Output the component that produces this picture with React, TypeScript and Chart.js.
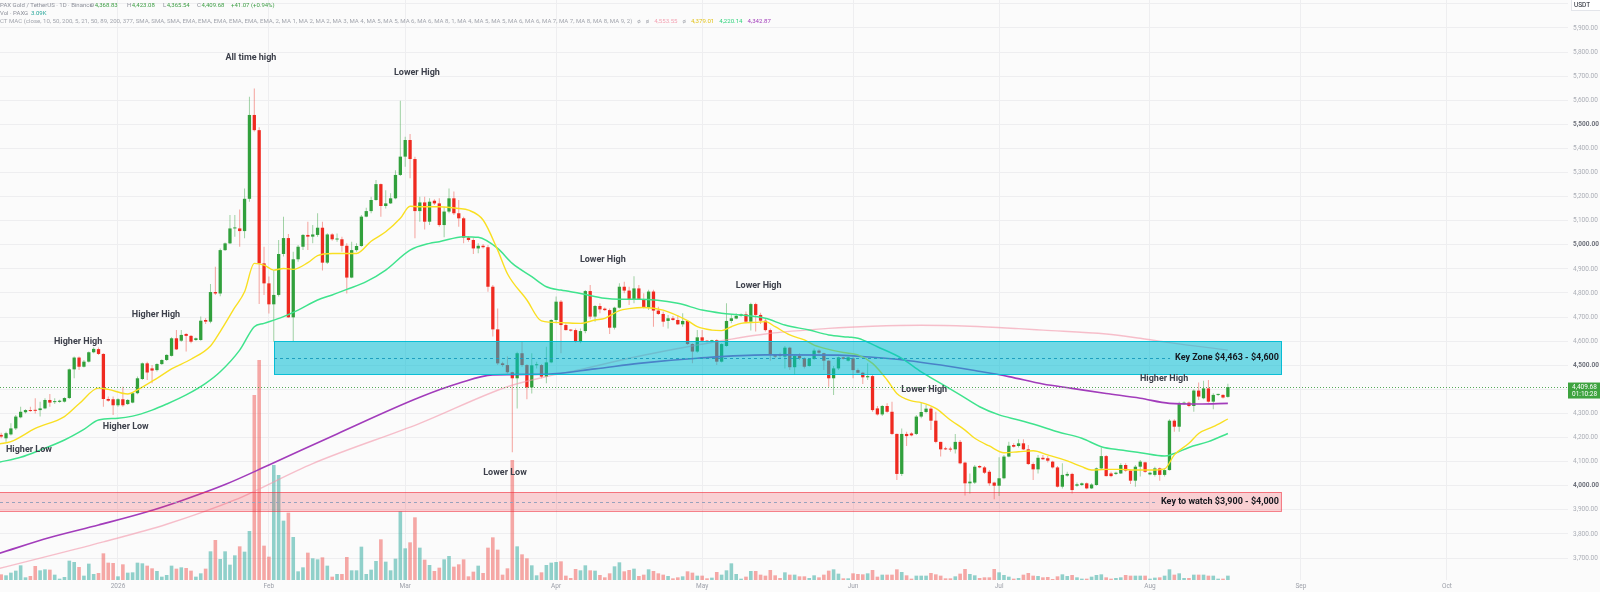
import React, { useEffect, useRef } from 'react';
import { Chart, registerables } from 'chart.js';

Chart.register(...registerables);

// ---------------- DATA (days counted from 1 Jan 2026; first candle = 8 Dec 2025) ----------------
const FIRST_DAY = -24;

const OPEN = [
  4211, 4197, 4213, 4238, 4284, 4305, 4314, 4313, 4314, 4321,
  4356, 4347, 4348, 4349, 4364, 4483, 4532, 4494, 4515, 4554,
  4567, 4547, 4360, 4359, 4334, 4359, 4339, 4345, 4384, 4443,
  4508, 4487, 4480, 4505, 4522, 4539, 4612, 4602, 4630, 4622,
  4605, 4605, 4688, 4681, 4804, 4798, 4978, 5006, 5068, 5068,
  5057, 5191, 5539, 5476, 4923, 4840, 4753, 4792, 4962, 5028,
  4699, 4940, 4992, 5041, 5034, 5041, 5071, 4926, 5043, 5022,
  5023, 4996, 4864, 4978, 4995, 5117, 5140, 5186, 5252, 5161,
  5172, 5193, 5290, 5366, 5435, 5356, 5140, 5176, 5096, 5183,
  5172, 5082, 5138, 5193, 5131, 5110, 5030, 5020, 4985, 4996,
  4990, 4826, 4649, 4508, 4501, 4471, 4446, 4550, 4501, 4408,
  4500, 4501, 4453, 4512, 4688, 4764, 4667, 4646, 4646, 4598,
  4642, 4808, 4702, 4746, 4735, 4729, 4656, 4739, 4826, 4810,
  4771, 4819, 4774, 4739, 4806, 4727, 4713, 4684, 4695, 4688,
  4670, 4684, 4588, 4557, 4616, 4602, 4598, 4604, 4515, 4580,
  4684, 4694, 4705, 4712, 4681, 4754, 4709, 4685, 4646, 4543,
  4543, 4536, 4573, 4492, 4539, 4529, 4497, 4526, 4561, 4550,
  4519, 4446, 4487, 4533, 4519, 4529, 4480, 4469, 4450, 4455,
  4321, 4296, 4331, 4307, 4215, 4049, 4215, 4217, 4215, 4287,
  4306, 4320, 4270, 4182, 4155, 4152, 4151, 4182, 4096, 4010,
  4013, 4082, 4076, 4058, 4013, 4000, 4031, 4121, 4169, 4165,
  4176, 4151, 4090, 4068, 4116, 4114, 4100, 4076, 3996, 4042,
  4049, 4000, 4003, 4010, 3989, 4003, 4072, 4123, 4051, 4049,
  4051, 4086, 4063, 4021, 4079, 4097, 4047, 4045, 4072, 4045,
  4065, 4270, 4245, 4339, 4345, 4331, 4395, 4363, 4404, 4349,
  4377, 4377, 4368.83,
];

const HIGH = [
  4220, 4224, 4259, 4294, 4328, 4317, 4328, 4363, 4349, 4363,
  4381, 4363, 4357, 4367, 4487, 4536, 4536, 4522, 4557, 4575,
  4574, 4550, 4370, 4370, 4363, 4411, 4360, 4386, 4453, 4512,
  4515, 4501, 4508, 4525, 4546, 4616, 4646, 4646, 4633, 4626,
  4615, 4702, 4695, 4837, 4909, 4985, 5010, 5124, 5124, 5147,
  5234, 5615, 5649, 5488, 4992, 4868, 4895, 5020, 5117, 5045,
  4971, 4999, 5045, 5096, 5082, 5131, 5096, 5048, 5048, 5047,
  5034, 5006, 5013, 5006, 5124, 5154, 5200, 5269, 5255, 5227,
  5214, 5310, 5598, 5449, 5460, 5366, 5200, 5200, 5193, 5189,
  5193, 5158, 5234, 5221, 5186, 5117, 5037, 5027, 5006, 5003,
  4999, 4833, 4736, 4515, 4536, 4473, 4556, 4598, 4505, 4550,
  4515, 4505, 4577, 4691, 4785, 4771, 4674, 4650, 4653, 4653,
  4812, 4833, 4750, 4757, 4740, 4736, 4743, 4840, 4847, 4826,
  4870, 4833, 4799, 4813, 4813, 4743, 4723, 4709, 4705, 4709,
  4716, 4688, 4591, 4646, 4646, 4605, 4606, 4608, 4591, 4757,
  4709, 4716, 4715, 4723, 4760, 4760, 4718, 4695, 4653, 4547,
  4552, 4580, 4577, 4543, 4550, 4533, 4530, 4570, 4566, 4552,
  4522, 4497, 4536, 4535, 4536, 4536, 4487, 4473, 4508, 4460,
  4331, 4335, 4342, 4349, 4217, 4238, 4224, 4222, 4294, 4345,
  4335, 4328, 4307, 4183, 4162, 4162, 4215, 4190, 4100, 4051,
  4086, 4085, 4082, 4065, 4017, 4118, 4128, 4183, 4176, 4193,
  4193, 4169, 4096, 4128, 4128, 4123, 4104, 4082, 4093, 4058,
  4054, 4013, 4013, 4013, 4010, 4076, 4159, 4128, 4058, 4058,
  4093, 4093, 4065, 4086, 4107, 4100, 4058, 4079, 4076, 4072,
  4276, 4276, 4349, 4350, 4350, 4400, 4428, 4436, 4439, 4384,
  4382, 4380, 4423.08,
];

const LOW = [
  4197, 4183, 4209, 4231, 4280, 4300, 4307, 4300, 4287, 4317,
  4328, 4339, 4344, 4345, 4360, 4446, 4480, 4491, 4511, 4550,
  4543, 4328, 4349, 4294, 4328, 4328, 4335, 4342, 4380, 4439,
  4439, 4425, 4474, 4501, 4518, 4536, 4563, 4598, 4557, 4591,
  4601, 4602, 4671, 4674, 4792, 4787, 4974, 5003, 5034, 4992,
  5027, 5179, 5470, 4754, 4792, 4715, 4598, 4785, 4951, 4697,
  4598, 4930, 4978, 4978, 5006, 5034, 4893, 4920, 5017, 5013,
  4971, 4798, 4861, 4971, 4992, 5114, 5131, 5183, 5117, 5151,
  5169, 5189, 5286, 5324, 5276, 5027, 5096, 5064, 5082, 5165,
  5075, 5031, 5131, 5124, 5075, 5006, 5013, 4962, 4965, 4985,
  4805, 4619, 4501, 4494, 4466, 4139, 4321, 4494, 4359, 4383,
  4487, 4446, 4425, 4508, 4674, 4550, 4644, 4640, 4594, 4591,
  4633, 4691, 4681, 4716, 4725, 4630, 4649, 4736, 4799, 4750,
  4757, 4771, 4736, 4729, 4660, 4709, 4660, 4653, 4685, 4667,
  4660, 4584, 4508, 4552, 4598, 4595, 4595, 4501, 4511, 4577,
  4674, 4691, 4701, 4674, 4644, 4640, 4671, 4640, 4519, 4529,
  4529, 4487, 4480, 4460, 4522, 4487, 4494, 4522, 4547, 4480,
  4411, 4377, 4480, 4524, 4516, 4446, 4467, 4422, 4439, 4307,
  4292, 4289, 4303, 4211, 4024, 4040, 4165, 4205, 4211, 4280,
  4301, 4231, 4176, 4121, 4148, 4141, 4134, 4089, 3959, 3968,
  4007, 4073, 4049, 4000, 3944, 3957, 4027, 4118, 4159, 4159,
  4148, 4086, 4024, 4051, 4107, 4096, 4072, 3993, 3989, 4037,
  3968, 3996, 3999, 3985, 3986, 4000, 4065, 4038, 4035, 4045,
  4049, 4058, 4007, 3996, 4038, 4054, 4044, 4038, 4021, 4038,
  4063, 4224, 4224, 4335, 4326, 4307, 4356, 4359, 4345, 4317,
  4372, 4362, 4365.54,
];

const CLOSE = [
  4204, 4218, 4238, 4287, 4307, 4314, 4310, 4311, 4321, 4356,
  4345, 4349, 4353, 4364, 4483, 4532, 4494, 4515, 4554, 4568,
  4547, 4360, 4353, 4334, 4359, 4334, 4356, 4384, 4446, 4508,
  4470, 4478, 4505, 4522, 4543, 4612, 4566, 4626, 4622, 4598,
  4612, 4685, 4681, 4804, 4798, 4978, 5006, 5068, 5069, 5057,
  5191, 5539, 5476, 4923, 4840, 4753, 4792, 4962, 5028, 4699,
  4940, 4992, 5041, 5034, 5043, 5071, 4926, 5043, 5023, 5023,
  4996, 4864, 4978, 4995, 5117, 5140, 5186, 5252, 5161, 5172,
  5193, 5290, 5366, 5435, 5356, 5140, 5176, 5096, 5179, 5172,
  5082, 5138, 5193, 5131, 5110, 5030, 5020, 4985, 4996, 4990,
  4826, 4649, 4508, 4501, 4471, 4446, 4550, 4501, 4408, 4500,
  4502, 4453, 4512, 4688, 4764, 4667, 4646, 4644, 4598, 4642,
  4808, 4702, 4746, 4732, 4729, 4656, 4739, 4826, 4810, 4771,
  4819, 4774, 4739, 4806, 4727, 4713, 4681, 4695, 4688, 4670,
  4684, 4588, 4557, 4616, 4602, 4598, 4604, 4515, 4588, 4684,
  4695, 4705, 4712, 4681, 4754, 4709, 4685, 4646, 4543, 4536,
  4539, 4573, 4492, 4539, 4529, 4494, 4526, 4561, 4552, 4519,
  4446, 4487, 4533, 4527, 4533, 4480, 4469, 4450, 4455, 4314,
  4296, 4331, 4307, 4215, 4049, 4215, 4206, 4209, 4287, 4306,
  4320, 4270, 4182, 4151, 4151, 4150, 4182, 4093, 4010, 4017,
  4079, 4076, 4054, 4010, 4000, 4031, 4121, 4166, 4162, 4176,
  4151, 4090, 4068, 4116, 4110, 4104, 4076, 3996, 4045, 4049,
  3982, 4006, 4010, 3989, 4005, 4072, 4123, 4040, 4040, 4054,
  4086, 4063, 4021, 4079, 4100, 4058, 4054, 4072, 4045, 4065,
  4270, 4245, 4339, 4345, 4331, 4395, 4370, 4404, 4349, 4377,
  4378, 4366, 4409.68,
];

// volume (relative units)
const VOLUME = [
  17, 14, 22, 28, 44, 8, 12, 42, 29, 32,
  31, 16, 4, 9, 58, 54, 39, 13, 49, 18,
  21, 80, 52, 51, 11, 47, 22, 23, 52, 50,
  43, 35, 27, 10, 15, 43, 34, 38, 36, 28,
  10, 20, 34, 86, 120, 63, 86, 46, 74, 101,
  85, 147, 555, 660, 103, 70, 345, 315, 178, 202,
  129, 26, 38, 82, 65, 62, 68, 43, 10, 18,
  18, 69, 29, 29, 100, 18, 31, 57, 122, 55,
  29, 64, 206, 95, 113, 188, 97, 61, 45, 27,
  37, 62, 72, 40, 47, 62, 11, 25, 43, 21,
  97, 128, 91, 16, 35, 360, 101, 77, 65, 44,
  14, 23, 45, 52, 54, 56, 13, 6, 33, 29,
  44, 29, 28, 15, 8, 20, 41, 53, 26, 30,
  34, 12, 16, 32, 27, 20, 16, 12, 5, 8,
  11, 26, 22, 13, 13, 5, 7, 24, 16, 29,
  50, 18, 4, 10, 27, 27, 16, 13, 30, 14,
  6, 23, 16, 16, 11, 11, 6, 14, 8, 16,
  28, 32, 19, 5, 5, 20, 18, 17, 20, 30,
  10, 16, 16, 16, 32, 24, 14, 4, 13, 13,
  13, 21, 17, 13, 5, 5, 11, 19, 33, 18,
  14, 6, 8, 8, 33, 23, 15, 10, 4, 6,
  16, 21, 13, 12, 8, 9, 3, 11, 17, 12,
  15, 8, 4, 4, 10, 15, 17, 8, 4, 6,
  8, 15, 13, 13, 13, 13, 4, 7, 8, 13,
  32, 16, 20, 6, 6, 16, 16, 16, 13, 13,
  4, 4, 13,
];

// Moving averages (day, value)
const MA_FAST_DAYS = [-24.3, -22, -17, -11, -8, -4, -2, 2, 4, 8, 11, 15, 19, 21, 24, 26, 28, 30, 32, 34, 36, 39, 41, 44, 47, 49, 52, 55, 58, 60, 62, 66, 70, 72, 75, 78, 80, 84, 87, 91, 95, 98, 100, 103, 105, 108, 112, 117, 119, 122, 124, 126, 128, 131, 133, 135, 138, 141, 143, 146, 149, 152, 155, 158, 160, 163, 165, 168, 171, 174, 176, 179, 182, 185, 188, 191, 195, 198, 200, 203, 206, 209, 212, 215, 217, 220, 222, 225, 228];
const MA_FAST = [4174, 4183, 4238, 4287, 4340, 4405, 4400, 4381, 4398, 4446, 4485, 4525, 4580, 4640, 4740, 4805, 4923, 4916, 4895, 4902, 4898, 4926, 4955, 4964, 4964, 4964, 5015, 5054, 5110, 5160, 5158, 5158, 5151, 5144, 5103, 4978, 4880, 4771, 4684, 4677, 4674, 4688, 4695, 4727, 4735, 4740, 4729, 4685, 4660, 4646, 4644, 4660, 4674, 4678, 4681, 4660, 4626, 4605, 4584, 4566, 4553, 4543, 4508, 4439, 4383, 4352, 4345, 4321, 4273, 4231, 4197, 4165, 4137, 4141, 4145, 4128, 4103, 4079, 4065, 4068, 4068, 4065, 4065, 4070, 4128, 4176, 4217, 4245, 4277];

const MA_MID_DAYS = [-24.3, -20, -16, -11, -7, -4, 0, 3, 7, 10, 14, 18, 21, 25, 28, 30, 34, 37, 41, 44, 47, 51, 55, 60, 64, 66, 71, 74, 78, 81, 85, 88, 91, 95, 100, 103, 107, 115, 120, 124, 128, 133, 137, 142, 146, 150, 152, 156, 161, 165, 169, 173, 177, 181, 185, 189, 193, 198, 202, 206, 210, 215, 217, 220, 224, 228];
const MA_MID = [4098, 4118, 4148, 4190, 4234, 4273, 4280, 4289, 4314, 4339, 4377, 4425, 4473, 4563, 4660, 4674, 4702, 4729, 4771, 4792, 4815, 4847, 4895, 4978, 5006, 5013, 5034, 5031, 4985, 4923, 4868, 4826, 4812, 4798, 4778, 4774, 4774, 4757, 4729, 4716, 4709, 4695, 4667, 4646, 4626, 4617, 4612, 4577, 4529, 4473, 4425, 4377, 4328, 4294, 4273, 4250, 4224, 4197, 4162, 4148, 4137, 4123, 4134, 4159, 4183, 4217];

const MA_SLOW_DAYS = [-24.3, -14, -4, 6, 13, 22, 31, 45, 62, 70, 77, 88, 98, 107, 119, 133, 148, 155, 162, 169, 176, 183, 190, 196, 203, 210, 216, 222, 228];
const MA_SLOW = [3720, 3785, 3837, 3892, 3938, 4005, 4086, 4215, 4367, 4425, 4460, 4463, 4485, 4508, 4529, 4543, 4542, 4533, 4520, 4501, 4478, 4453, 4422, 4404, 4383, 4363, 4342, 4339, 4342];

const MA_LONG_DAYS = [-24.3, -3, 10, 24, 40, 62, 80, 88, 96, 105, 119, 133, 146, 155, 165, 175, 185, 190, 203, 210, 216, 228];
const MA_LONG = [3657, 3767, 3840, 3941, 4092, 4259, 4411, 4453, 4487, 4529, 4584, 4630, 4653, 4662, 4666, 4662, 4652, 4646, 4630, 4612, 4594, 4563];

// Axis ticks
const MONTH_TICKS = [0, 31, 59, 90, 120, 151, 181, 212, 243, 273];
const MONTH_LABELS = ['2026', 'Feb', 'Mar', 'Apr', 'May', 'Jun', 'Jul', 'Aug', 'Sep', 'Oct'];
const PRICE_TICKS = [3700, 3800, 3900, 4000, 4100, 4200, 4300, 4400, 4500, 4600, 4700, 4800, 4900, 5000, 5100, 5200, 5300, 5400, 5500, 5600, 5700, 5800, 5900, 6000];

// Zones
const KEY_ZONE = [4463, 4600];
const WATCH_ZONE = [3894, 3974];
const KEY_ZONE_START_DAY = 32.05;
const ZONE_END_DAY = 239.1;
const KEY_ZONE_TEXT = 'Key Zone $4,463 - $4,600';
const WATCH_ZONE_TEXT = 'Key to watch $3,900 - $4,000';

// Pattern annotations
const LABEL_TEXTS = ['All time high', 'Lower High', 'Higher High', 'Higher High', 'Higher Low', 'Higher Low', 'Lower High', 'Lower High', 'Lower Low', 'Lower High', 'Higher High'];
const LABEL_DAYS = [27.3, 61.4, -8.2, 7.8, -18.3, 1.6, 99.6, 131.6, 79.5, 165.6, 214.9];
const LABEL_PRICES = [5775, 5715, 4598, 4710, 4148, 4245, 4937, 4829, 4053, 4400, 4442];

// ---------------- STYLE ----------------
const W = 1600;
const H = 592;
const BG = '#fbfbfb';
const GRID = '#eeeef0';
const UP = '#31a03c';
const DOWN = '#ef2a20';
const UP_WICK = 'rgba(49,160,60,0.45)';
const DOWN_WICK = 'rgba(239,42,32,0.42)';
const VOL_UP = 'rgba(38,166,154,0.5)';
const VOL_DOWN = 'rgba(239,83,80,0.5)';
const FONT = 'Roboto, "Noto Sans", sans-serif';

const X_MIN = -24.24;
const X_MAX = 297.87;
const Y_MIN = 3608.7;
const Y_MAX = 6016.2;
const VOL_MAX = 1740;

const fmtPrice = (v: number) => {
  const [i, d] = v.toFixed(2).split('.');
  return i.replace(/\B(?=(\d{3})+(?!\d))/g, ',') + '.' + d;
};

const overlayPlugin = {
  id: 'overlay',
  beforeDraw(chart: any) {
    const { ctx, width, height } = chart;
    ctx.save();
    ctx.fillStyle = BG;
    ctx.fillRect(0, 0, width, height);
    ctx.restore();
  },
  afterDatasetsDraw(chart: any) {
    const { ctx, chartArea: a, scales } = chart;
    const xs = scales.x;
    const ys = scales.y;
    ctx.save();
    ctx.beginPath();
    ctx.rect(a.left, a.top, a.right - a.left, a.bottom - a.top);
    ctx.clip();

    const zEnd = xs.getPixelForValue(ZONE_END_DAY);
    ctx.font = `bold 9px ${FONT}`;

    // watch zone (pink)
    {
      const top = ys.getPixelForValue(WATCH_ZONE[1]);
      const bot = ys.getPixelForValue(WATCH_ZONE[0]);
      const left = a.left - 3;
      ctx.fillStyle = 'rgba(242,54,69,0.22)';
      ctx.fillRect(left, top, zEnd - left, bot - top);
      ctx.strokeStyle = 'rgba(242,54,69,0.6)';
      ctx.lineWidth = 1;
      ctx.strokeRect(left + 0.5, Math.round(top) + 0.5, zEnd - left - 1, Math.round(bot - top));
      const mid = (top + bot) / 2;
      const tw = ctx.measureText(WATCH_ZONE_TEXT).width;
      ctx.setLineDash([3, 3]);
      ctx.strokeStyle = '#98a2bd';
      ctx.beginPath();
      ctx.moveTo(a.left, Math.round(mid) + 0.5);
      ctx.lineTo(zEnd - 3 - tw - 5, Math.round(mid) + 0.5);
      ctx.stroke();
      ctx.setLineDash([]);
      ctx.fillStyle = '#15171e';
      ctx.textAlign = 'right';
      ctx.textBaseline = 'middle';
      ctx.fillText(WATCH_ZONE_TEXT, zEnd - 3, mid);
    }

    // key zone (cyan)
    {
      const top = ys.getPixelForValue(KEY_ZONE[1]);
      const bot = ys.getPixelForValue(KEY_ZONE[0]);
      const left = xs.getPixelForValue(KEY_ZONE_START_DAY);
      ctx.fillStyle = 'rgba(0,188,212,0.55)';
      ctx.fillRect(left, top, zEnd - left, bot - top);
      ctx.strokeStyle = 'rgba(0,188,212,0.95)';
      ctx.lineWidth = 1;
      ctx.strokeRect(Math.round(left) + 0.5, Math.round(top) + 0.5, Math.round(zEnd - left) - 1, Math.round(bot - top));
      const mid = (top + bot) / 2;
      const tw = ctx.measureText(KEY_ZONE_TEXT).width;
      ctx.setLineDash([3, 3]);
      ctx.strokeStyle = '#1f9fbf';
      ctx.beginPath();
      ctx.moveTo(left, Math.round(mid) + 0.5);
      ctx.lineTo(zEnd - 3 - tw - 5, Math.round(mid) + 0.5);
      ctx.stroke();
      ctx.setLineDash([]);
      ctx.fillStyle = '#15171e';
      ctx.textAlign = 'right';
      ctx.textBaseline = 'middle';
      ctx.fillText(KEY_ZONE_TEXT, zEnd - 3, mid);
    }

    // current price dotted line
    const last = CLOSE[CLOSE.length - 1];
    const py = Math.round(ys.getPixelForValue(last)) + 0.5;
    ctx.strokeStyle = 'rgba(67,160,71,0.9)';
    ctx.setLineDash([1, 2]);
    ctx.beginPath();
    ctx.moveTo(a.left, py);
    ctx.lineTo(a.right, py);
    ctx.stroke();
    ctx.setLineDash([]);

    // pattern labels
    ctx.fillStyle = '#3d404b';
    ctx.textAlign = 'center';
    ctx.textBaseline = 'middle';
    for (let i = 0; i < LABEL_TEXTS.length; i++) {
      ctx.fillText(LABEL_TEXTS[i], xs.getPixelForValue(LABEL_DAYS[i]), ys.getPixelForValue(LABEL_PRICES[i]));
    }
    ctx.restore();
  },
  afterDraw(chart: any) {
    const { ctx, chartArea: a, scales } = chart;
    const ys = scales.y;
    ctx.save();
    ctx.textBaseline = 'middle';
    ctx.textAlign = 'left';

    const GRAY = '#8d909a';
    const GREEN = '#3f9f46';
    // line 1
    ctx.font = `6px ${FONT}`;
    ctx.fillStyle = GRAY;
    ctx.fillText('PAX Gold / TetherUS · 1D · Binance', 0, 5);
    const ohlc: [string, string, number][] = [
      ['O', '4,368.83', 90],
      ['H', '4,423.08', 127],
      ['L', '4,365.54', 163],
      ['C', '4,409.68', 197],
    ];
    for (const [k, v, x] of ohlc) {
      ctx.fillStyle = GRAY;
      ctx.fillText(k, x, 5);
      const kw = ctx.measureText(k).width;
      ctx.fillStyle = GREEN;
      ctx.fillText(v, x + kw + 0.5, 5);
    }
    ctx.fillStyle = GREEN;
    ctx.fillText('+41.07 (+0.94%)', 231, 5);

    // line 2
    ctx.fillStyle = GRAY;
    ctx.fillText('Vol · PAXG', 0, 13.3);
    ctx.fillStyle = '#26a69a';
    ctx.fillText('3.09K', 31, 13.3);

    // line 3
    const ind = 'CT MAC (close, 10, 50, 200, 5, 21, 50, 89, 200, 377, SMA, SMA, SMA, EMA, EMA, EMA, EMA, EMA, EMA, 2, MA 1, MA 2, MA 2, MA 3, MA 4, MA 5, MA 5, MA 6, MA 6, MA 8, 1, MA 4, MA 5, MA 5, MA 6, MA 6, MA 7, MA 7, MA 8, MA 8, MA 9, 2)';
    ctx.font = `10px ${FONT}`;
    const w10 = ctx.measureText(ind).width;
    const fs = Math.min(6.2, (634 / w10) * 10);
    ctx.font = `${fs.toFixed(2)}px ${FONT}`;
    ctx.fillStyle = '#a3a6ae';
    ctx.fillText(ind, 0, 21.5);
    let cx = ctx.measureText(ind).width + 5;
    const parts: [string, string][] = [
      ['ø', '#a3a6ae'], ['ø', '#a3a6ae'], ['4,553.55', '#f4a3b4'], ['ø', '#a3a6ae'],
      ['4,379.01', '#e3c31c'], ['4,220.14', '#33d47f'], ['4,342.87', '#a23cbb'],
    ];
    for (const [t, c] of parts) {
      ctx.fillStyle = c;
      ctx.fillText(t, cx, 21.5);
      cx += ctx.measureText(t).width + 5;
    }

    // USDT box
    ctx.fillStyle = '#ffffff';
    ctx.fillRect(1571, 0, 29, 11);
    ctx.strokeStyle = '#e3e5ea';
    ctx.lineWidth = 1;
    ctx.strokeRect(1571.5, -0.5, 29, 11);
    ctx.fillStyle = '#131722';
    ctx.font = `6.5px ${FONT}`;
    ctx.fillText('USDT', 1574, 5.5);

    // price tag
    const last = CLOSE[CLOSE.length - 1];
    const py = ys.getPixelForValue(last);
    ctx.fillStyle = '#3ea33f';
    ctx.fillRect(a.right, py - 4.5, W - a.right, 16);
    ctx.fillStyle = '#ffffff';
    ctx.font = `6.5px ${FONT}`;
    ctx.fillText(fmtPrice(last), a.right + 4, py + 0.5);
    ctx.fillText('01:10:28', a.right + 4, py + 7.3);
    ctx.restore();
  },
};

export default function App() {
  const ref = useRef<HTMLCanvasElement>(null);

  useEffect(() => {
    const canvas = ref.current;
    if (!canvas) return;
    const days = OPEN.map((_, i) => FIRST_DAY + i);
    const up = OPEN.map((o, i) => CLOSE[i] >= o);

    const line = (label: string, xs: number[], vs: number[], color: string, width: number, order: number) => ({
      type: 'line' as const,
      label,
      data: xs.map((d, i) => ({ x: d, y: vs[i] })),
      borderColor: color,
      borderWidth: width,
      pointRadius: 0,
      pointHoverRadius: 0,
      cubicInterpolationMode: 'monotone' as const,
      yAxisID: 'y',
      order,
    });

    const chart = new Chart(canvas, {
      type: 'bar',
      data: {
        datasets: [
          line('MA fast', MA_FAST_DAYS, MA_FAST, '#f9df22', 1.4, 1),
          line('MA mid', MA_MID_DAYS, MA_MID, '#3fe38d', 1.5, 2),
          line('MA slow', MA_SLOW_DAYS, MA_SLOW, '#a23cbb', 1.6, 3),
          line('MA long', MA_LONG_DAYS, MA_LONG, 'rgba(244,150,170,0.6)', 1.4, 4),
          {
            type: 'bar',
            label: 'bodies',
            data: days.map((d, i) => ({ x: d, y: [Math.min(OPEN[i], CLOSE[i]), Math.max(OPEN[i], CLOSE[i])] })),
            backgroundColor: up.map((u) => (u ? UP : DOWN)),
            borderWidth: 0,
            grouped: false,
            barPercentage: 1,
            categoryPercentage: 1,
            maxBarThickness: 3.3,
            minBarLength: 1,
            inflateAmount: 0,
            yAxisID: 'y',
            order: 5,
          },
          {
            type: 'bar',
            label: 'wicks',
            data: days.map((d, i) => ({ x: d, y: [LOW[i], HIGH[i]] })),
            backgroundColor: up.map((u) => (u ? UP_WICK : DOWN_WICK)),
            borderWidth: 0,
            grouped: false,
            barPercentage: 1,
            categoryPercentage: 1,
            maxBarThickness: 1,
            inflateAmount: 0,
            yAxisID: 'y',
            order: 6,
          },
          {
            type: 'bar',
            label: 'volume',
            data: days.map((d, i) => ({ x: d, y: VOLUME[i] })),
            backgroundColor: up.map((u) => (u ? VOL_UP : VOL_DOWN)),
            borderWidth: 0,
            grouped: false,
            barPercentage: 1,
            categoryPercentage: 1,
            maxBarThickness: 3.6,
            inflateAmount: 0,
            yAxisID: 'vol',
            order: 10,
          },
        ] as any,
      },
      options: {
        animation: false,
        responsive: true,
        maintainAspectRatio: false,
        events: [],
        layout: { padding: 0, autoPadding: false },
        plugins: { legend: { display: false }, tooltip: { enabled: false } },
        scales: {
          x: {
            type: 'linear',
            position: 'bottom',
            min: X_MIN,
            max: X_MAX,
            offset: false,
            grid: { color: GRID, drawTicks: false, offset: false },
            border: { display: false },
            ticks: {
              autoSkip: false,
              maxRotation: 0,
              padding: 2,
              color: '#9ea1aa',
              font: { size: 6.5, family: FONT },
              callback: (_v: any, i: number) => MONTH_LABELS[i] ?? '',
            },
            afterBuildTicks: (s: any) => {
              s.ticks = MONTH_TICKS.map((v) => ({ value: v }));
            },
            afterFit: (s: any) => {
              s.height = 12;
              s.paddingLeft = 0;
              s.paddingRight = 0;
            },
          },
          y: {
            type: 'linear',
            position: 'right',
            min: Y_MIN,
            max: Y_MAX,
            grid: { color: GRID, drawTicks: false },
            border: { display: false },
            ticks: {
              autoSkip: false,
              padding: 5,
              color: (c: any) => (c.tick && c.tick.value % 500 === 0 ? '#6d707a' : '#abaeb6'),
              font: (c: any) => ({ size: 6.5, family: FONT, weight: c.tick && c.tick.value % 500 === 0 ? 'bold' : 'normal' }),
              callback: (v: any) => (Number(v) >= 6000 ? '' : fmtPrice(Number(v))),
            },
            afterBuildTicks: (s: any) => {
              s.ticks = PRICE_TICKS.map((v) => ({ value: v }));
            },
            afterFit: (s: any) => {
              s.width = 32;
              s.paddingTop = 0;
              s.paddingBottom = 0;
            },
          },
          vol: {
            type: 'linear',
            axis: 'y',
            display: false,
            min: 0,
            max: VOL_MAX,
          },
        } as any,
      },
      plugins: [overlayPlugin],
    } as any);

    return () => chart.destroy();
  }, []);

  return (
    <div style={{ position: 'fixed', left: 0, top: 0, width: W, height: H, background: BG }}>
      <canvas ref={ref} />
    </div>
  );
}
